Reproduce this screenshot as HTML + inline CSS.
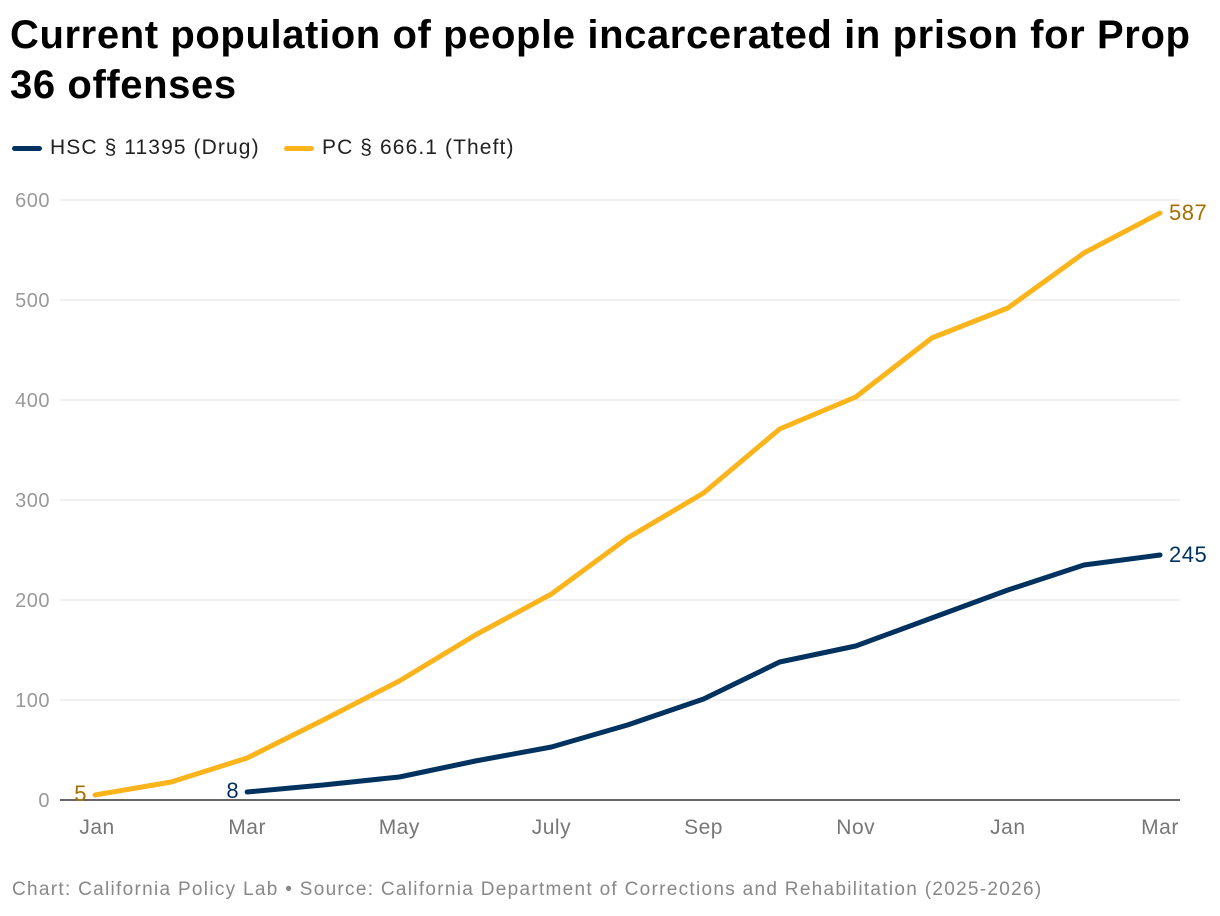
<!DOCTYPE html>
<html><head><meta charset="utf-8"><style>
body{margin:0;background:#fff;font-family:"Liberation Sans",sans-serif;}
#wrap{position:relative;width:1220px;height:916px;overflow:hidden;}
h1{position:absolute;left:10px;top:10px;margin:0;font-size:40px;line-height:50px;font-weight:bold;color:#000;width:1200px;letter-spacing:0.6px}
.leg{position:absolute;top:136px;font-size:21px;letter-spacing:1.1px;color:#222;display:flex;align-items:center}
.leg i{display:inline-block;width:30px;height:5px;border-radius:3px;margin-right:8px}
#src{position:absolute;left:12px;top:879px;font-size:19px;letter-spacing:1.3px;color:#888}
</style></head><body>
<div id="wrap">
<h1>Current population of people incarcerated in prison for Prop 36 offenses</h1>
<div class="leg" style="left:12px"><i style="background:#00325f"></i>HSC § 11395 (Drug)</div>
<div class="leg" style="left:284px"><i style="background:#fbb41c"></i>PC § 666.1 (Theft)</div>
<svg id="svg" width="1220" height="916" style="position:absolute;left:0;top:0"></svg>
<div id="src">Chart: California Policy Lab • Source: California Department of Corrections and Rehabilitation (2025-2026)</div>
</div>
<script>
const months=["Jan","Feb","Mar","Apr","May","Jun","July","Aug","Sep","Oct","Nov","Dec","Jan","Feb","Mar"];
const tickIdx=[0,2,4,6,8,10,12,14];
const yTicks=[0,100,200,300,400,500,600];
const theft=[5,18,42,80,119,165,206,262,307,371,403,462,492,547,587];
const drug=[null,null,8,15,23,39,53,75,101,138,154,182,210,235,245];
const NS="http://www.w3.org/2000/svg",svg=document.getElementById("svg");
const x=i=>95+i*(1160-95)/14, y=v=>800-v;
function mk(t,a,txt){const e=document.createElementNS(NS,t);for(const k in a)e.setAttribute(k,a[k]);if(txt!==undefined)e.textContent=txt;svg.appendChild(e);return e;}
yTicks.forEach(v=>{
 const l=mk("line",{x1:60,x2:1180,y1:y(v),y2:y(v),stroke:v?"#e0e0e0":"#333","stroke-width":v?1:1.5});
 
 
 const t=mk("text",{x:50,y:y(v)+7,"text-anchor":"end","font-size":20,"letter-spacing":0.5,fill:"#999","font-family":"Liberation Sans"},v);
 
 
});
tickIdx.forEach(i=>{
 const t=mk("text",{x:x(i)+(i==0?2:0),y:834,"text-anchor":"middle","font-size":21,"letter-spacing":0.5,fill:"#777","font-family":"Liberation Sans"},months[i]);
 
 
});
function line(data,col,name){
 const pts=[];data.forEach((v,i)=>{if(v!==null)pts.push(x(i)+","+y(v));});
 const p=mk("polyline",{points:pts.join(" "),fill:"none",stroke:col,"stroke-width":5,"stroke-linejoin":"round","stroke-linecap":"round"});
 
 
}
line(theft,"#fbb41c","theft-line");
line(drug,"#00325f","drug-line");
function lab(txt,xx,yy,col,anchor,name){
 const t=mk("text",{x:xx,y:yy,"text-anchor":anchor,"font-size":22,"letter-spacing":0.5,fill:col,"font-family":"Liberation Sans"},txt);
 
 
}
const fi=drug.findIndex(v=>v!==null);
lab(theft[0],x(0)-8,y(theft[0])+6,"#a66f00","end","theft-start-label");
lab(drug[fi],x(fi)-8,y(drug[fi])+6,"#00325f","end","drug-start-label");
lab(theft[14],x(14)+9,y(theft[14])+7,"#a66f00","start","theft-end-label");
lab(drug[14],x(14)+9,y(drug[14])+7,"#00325f","start","drug-end-label");
</script>
</body></html>
